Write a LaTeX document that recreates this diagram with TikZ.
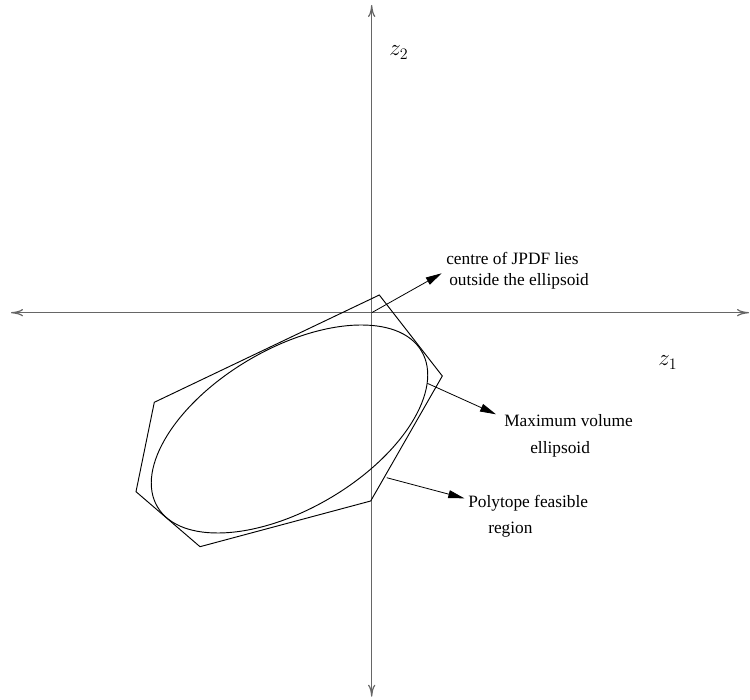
\documentclass[tikz,border=0pt]{standalone}
\usepackage{fontspec}
\setmainfont{Liberation Serif}
\usetikzlibrary{arrows.meta}
\newcommand{\mylblfont}{\fontsize{13pt}{16pt}\selectfont}
\newcommand{\myaxfont}{\fontsize{17pt}{20pt}\selectfont}
\begin{document}
\begin{tikzpicture}[x=0.75pt,y=0.75pt,
  axis/.style={draw=black!60,line width=0.9pt,{To[length=9pt,width=5.5pt]}-{To[length=9pt,width=5.5pt]}},
  shape line/.style={draw=black,line width=0.7pt},
  pointer/.style={draw=black,line width=0.6pt,-{Triangle[length=12pt,width=6pt]}},
  lbl/.style={anchor=base west,inner sep=0pt,font=\mylblfont},
  axlbl/.style={anchor=base west,inner sep=0pt,font=\myaxfont}]
\useasboundingbox (0,0) rectangle (750,700);
% axes
\coordinate (xl) at (11,387.3);
\coordinate (xr) at (749,387.3);
\coordinate (yb) at (371.7,3.3);
\coordinate (yt) at (371.7,695);
\coordinate (o) at (371.7,387.3);
\draw[axis] (xl) -- (xr);
\draw[axis] (yb) -- (yt);
\node[axlbl] (z1) at (658,334) {$z_1$};
\node[axlbl] (z2) at (389,644) {$z_2$};
% polytope
\coordinate (p1) at (379.3,405);
\coordinate (p2) at (442.3,324);
\coordinate (p3) at (370.7,199);
\coordinate (p4) at (200,153.3);
\coordinate (p5) at (136,208.3);
\coordinate (p6) at (154.3,297.7);
\draw[shape line,line join=miter] (p1) -- (p2) -- (p3) -- (p4) -- (p5) -- (p6) -- cycle;
% ellipse
\coordinate (ec) at (289.5,271);
\draw[shape line,rotate around={30.5:(ec)}] (ec) ellipse [x radius=153.3,y radius=80.1];
% labels
\node[lbl] (l1a) at (446,435) {centre of JPDF lies};
\node[lbl] (l1b) at (449,414) {outside the ellipsoid};
\node[lbl] (l2a) at (504,273) {Maximum volume};
\node[lbl] (l2b) at (530,246) {ellipsoid};
\node[lbl] (l3a) at (468,192) {Polytope feasible};
\node[lbl] (l3b) at (488,166) {region};
% pointers
\coordinate (a1e) at (441.7,426.7);
\coordinate (a2s) at (427.3,316.7);
\coordinate (a2e) at (496,285.7);
\coordinate (a3s) at (386.7,222.3);
\coordinate (a3e) at (464.3,201.7);
\draw[pointer] (o) -- (a1e);
\draw[pointer] (a2s) -- (a2e);
\draw[pointer] (a3s) -- (a3e);
\end{tikzpicture}
\end{document}
